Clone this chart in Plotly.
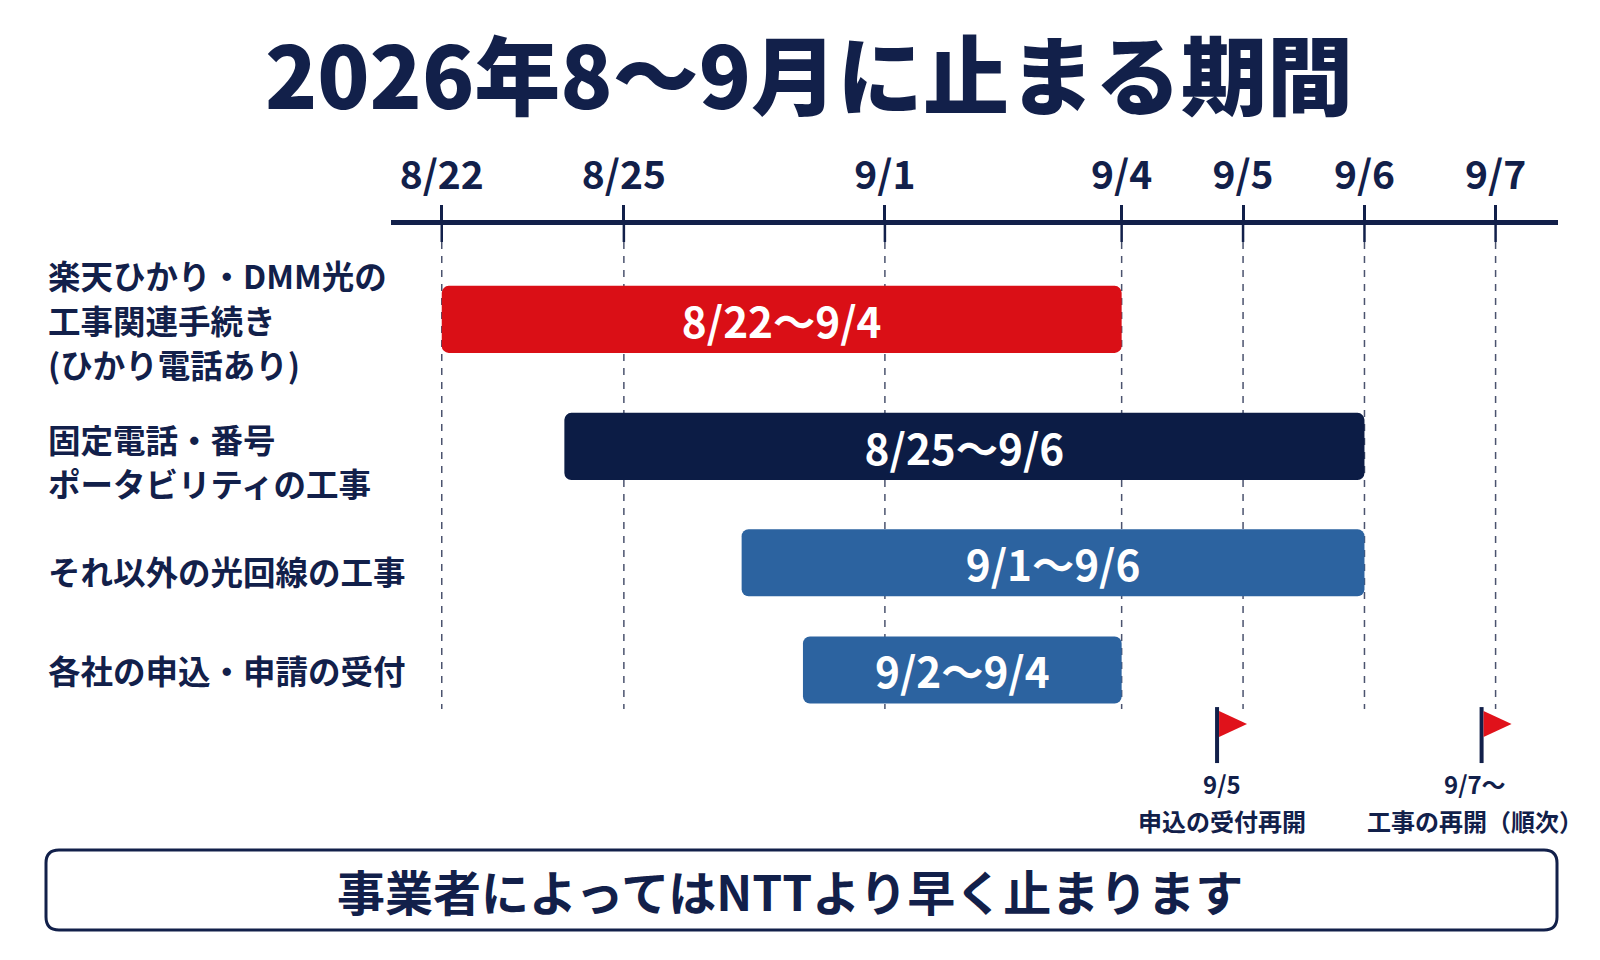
import plotly.graph_objects as go

# Axis ticks (dates) and where they sit on the timeline scale
tick_labels = ["8/22", "8/25", "9/1", "9/4", "9/5", "9/6", "9/7"]
tick_pos = [0, 1.5, 3.65, 5.6, 6.6, 7.6, 8.68]

# Rows (top to bottom), one list entry per text line
row_labels = [
    ["楽天ひかり・DMM光の", "工事関連手続き", "(ひかり電話あり)"],
    ["固定電話・番号", "ポータビリティの工事"],
    ["それ以外の光回線の工事"],
    ["各社の申込・申請の受付"],
]
bar_texts = ["8/22〜9/4", "8/25〜9/6", "9/1〜9/6", "9/2〜9/4"]
bar_start = [0, 1.01, 2.47, 2.975]
bar_end = [5.6, 7.6, 7.6, 5.6]

# Restart markers below the timeline
flag_dates = ["9/5", "9/7"]
flag_top = ["9/5", "9/7〜"]
flag_bottom = ["申込の受付再開", "工事の再開（順次）"]

title_text = "2026年8〜9月に止まる期間"
note_text = "事業者によってはNTTより早く止まります"

# Styling
FONT = "Noto Sans CJK JP, Noto Sans, sans-serif"
NAVY = "#12204a"
RED = "#da0f16"
BLUE = "#2c63a0"
bar_colors = [RED, "#0c1c45", BLUE, BLUE]
row_y = [0, 1.087, 2.083, 3]
label_shift = [0, -14, -8, 0]
flag_shift = [-26, -14]

# page body adds an 8px margin, so the figure is drawn 16px smaller
W, H, OFF = 1584, 944, 8


def px_x(p):
    return (p - OFF) / W


def px_y(p):
    return 1 - (p - OFF) / H


fig = go.Figure()

fig.add_trace(
    go.Bar(
        orientation="h",
        y=row_y,
        base=bar_start,
        x=[e - s for s, e in zip(bar_start, bar_end)],
        width=0.574,
        marker=dict(color=bar_colors, cornerradius=7, line=dict(width=0)),
        text=bar_texts,
        textposition="inside",
        insidetextanchor="middle",
        textangle=0,
        constraintext="none",
        textfont=dict(family=FONT, size=45, color="white", weight="bold"),
        hoverinfo="skip",
    )
)

shapes = []
# dashed guides + tick extension under the axis line
for p in tick_pos:
    shapes.append(dict(type="line", xref="x", yref="y", x0=p, x1=p, y0=-0.662, y1=3.335,
                       line=dict(color="#4b536e", width=1.5, dash="7px,7px"), layer="below"))
    shapes.append(dict(type="line", xref="x", yref="y", x0=p, x1=p, y0=-0.812, y1=-0.662,
                       line=dict(color=NAVY, width=2.5)))

# flags
for d, s in zip(flag_dates, flag_shift):
    p = tick_pos[tick_labels.index(d)]
    shapes.append(dict(type="line", xref="x", yref="y", xsizemode="pixel", xanchor=p,
                       x0=s, x1=s, y0=3.318, y1=3.797, line=dict(color=NAVY, width=4)))
    shapes.append(dict(type="path", xref="x", yref="y", xsizemode="pixel", xanchor=p,
                       path=f"M {s + 2},3.352 L {s + 30},3.463 L {s + 2},3.575 Z",
                       fillcolor="#e0121b", line=dict(width=0)))

# bottom note box (rounded rect in paper coords)
x0, x1 = px_x(46), px_x(1557)
y0, y1 = px_y(930), px_y(850)
rx, ry = 13 / W, 13 / H
box_path = (
    f"M {x0 + rx},{y1} L {x1 - rx},{y1} Q {x1},{y1} {x1},{y1 - ry} "
    f"L {x1},{y0 + ry} Q {x1},{y0} {x1 - rx},{y0} "
    f"L {x0 + rx},{y0} Q {x0},{y0} {x0},{y0 + ry} "
    f"L {x0},{y1 - ry} Q {x0},{y1} {x0 + rx},{y1} Z"
)
shapes.append(dict(type="path", xref="paper", yref="paper", path=box_path,
                   line=dict(color=NAVY, width=3), fillcolor="white"))

annotations = []
for lines, y, sh in zip(row_labels, row_y, label_shift):
    n = len(lines)
    for i, line in enumerate(lines):
        annotations.append(dict(text=line, xref="paper", yref="y", x=px_x(46), y=y,
                                yshift=sh - (i - (n - 1) / 2) * 44.4,
                                xanchor="left", yanchor="middle", align="left", showarrow=False,
                                font=dict(family=FONT, size=32.5, color=NAVY, weight="bold")))

# flag captions: two lines each
for d, top, bottom in zip(flag_dates, flag_top, flag_bottom):
    p = tick_pos[tick_labels.index(d)]
    for t, yy in ((top, 3.975), (bottom, 4.285)):
        annotations.append(dict(text=t, xref="x", yref="y", x=p, y=yy, xshift=-21,
                                showarrow=False, xanchor="center", yanchor="middle",
                                font=dict(family=FONT, size=24, color=NAVY, weight="bold")))

annotations.append(dict(text=note_text, xref="paper", yref="paper", x=px_x(790), y=px_y(890),
                        showarrow=False, xanchor="center", yanchor="middle",
                        font=dict(family=FONT, size=48, color=NAVY, weight="bold")))

fig.update_layout(
    width=W,
    height=H,
    margin=dict(l=0, r=0, t=0, b=0),
    paper_bgcolor="white",
    plot_bgcolor="white",
    showlegend=False,
    title=dict(text=title_text, x=px_x(809), y=px_y(79), xanchor="center", yanchor="middle",
               font=dict(family=FONT, size=86, color=NAVY, weight=900)),
    xaxis=dict(
        side="top",
        domain=[px_x(391), px_x(1558)],
        range=[-0.418, 9.194],
        tickvals=tick_pos,
        ticktext=tick_labels,
        ticks="outside",
        ticklen=15,
        tickwidth=2.5,
        tickcolor=NAVY,
        showline=True,
        linewidth=5,
        linecolor=NAVY,
        showgrid=False,
        zeroline=False,
        tickfont=dict(family=FONT, size=39, color=NAVY, weight="bold"),
        fixedrange=True,
    ),
    yaxis=dict(
        domain=[px_y(830), px_y(224.5)],
        range=[4.37, -0.812],
        visible=False,
        fixedrange=True,
    ),
    shapes=shapes,
    annotations=annotations,
)

fig.write_html("out.html")
